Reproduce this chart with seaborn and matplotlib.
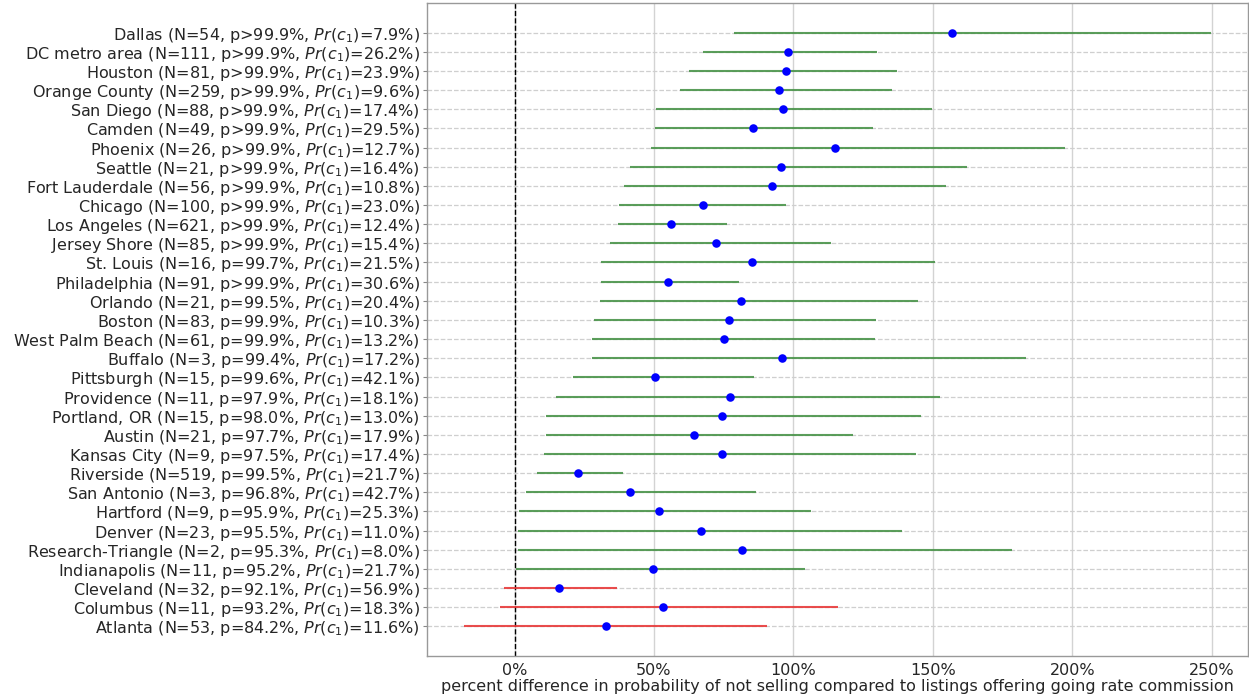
import numpy as np
import pandas as pd
import matplotlib
matplotlib.use("Agg")
import matplotlib.pyplot as plt
from matplotlib.ticker import MultipleLocator, PercentFormatter
import seaborn as sns

# Metro areas, ordered top to bottom
metros = [
    "Dallas", "DC metro area", "Houston", "Orange County", "San Diego", "Camden",
    "Phoenix", "Seattle", "Fort Lauderdale", "Chicago", "Los Angeles", "Jersey Shore",
    "St. Louis", "Philadelphia", "Orlando", "Boston", "West Palm Beach", "Buffalo",
    "Pittsburgh", "Providence", "Portland, OR", "Austin", "Kansas City", "Riverside",
    "San Antonio", "Hartford", "Denver", "Research-Triangle", "Indianapolis",
    "Cleveland", "Columbus", "Atlanta",
]
n_listings = [54, 111, 81, 259, 88, 49, 26, 21, 56, 100, 621, 85, 16, 91, 21, 83,
              61, 3, 15, 11, 15, 21, 9, 519, 3, 9, 23, 2, 11, 32, 11, 53]
p_text = [">99.9", ">99.9", ">99.9", ">99.9", ">99.9", ">99.9", ">99.9", ">99.9",
          ">99.9", ">99.9", ">99.9", ">99.9", "=99.7", ">99.9", "=99.5", "=99.9",
          "=99.9", "=99.4", "=99.6", "=97.9", "=98.0", "=97.7", "=97.5", "=99.5",
          "=96.8", "=95.9", "=95.5", "=95.3", "=95.2", "=92.1", "=93.2", "=84.2"]
pr_c1 = [7.9, 26.2, 23.9, 9.6, 17.4, 29.5, 12.7, 16.4, 10.8, 23.0, 12.4, 15.4,
         21.5, 30.6, 20.4, 10.3, 13.2, 17.2, 42.1, 18.1, 13.0, 17.9, 17.4, 21.7,
         42.7, 25.3, 11.0, 8.0, 21.7, 56.9, 18.3, 11.6]

# Point estimates and interval bounds (percent difference)
estimate = [156.8, 98.1, 97.5, 94.9, 96.4, 85.6, 114.8, 95.5, 92.4, 67.4, 56.1, 72.2,
            85.2, 54.9, 81.1, 76.9, 75.0, 96.0, 50.2, 77.1, 74.4, 64.2, 74.4, 22.9,
            41.3, 51.7, 66.9, 81.4, 49.6, 16.1, 53.2, 32.8]
lower = [78.6, 67.6, 62.5, 59.3, 50.6, 50.4, 48.9, 41.5, 39.2, 37.5, 37.1, 34.1,
         31.1, 31.1, 30.7, 28.4, 27.7, 27.7, 21.0, 15.0, 11.4, 11.4, 10.6, 8.0,
         4.2, 1.7, 1.3, 1.1, 0.6, -3.6, -5.1, -18.0]
upper = [249.6, 130.1, 137.3, 135.2, 149.6, 128.4, 197.5, 162.1, 154.7, 97.5, 76.1,
         113.4, 150.8, 80.5, 144.7, 129.5, 129.2, 183.5, 85.8, 152.7, 145.8, 121.2,
         144.1, 38.8, 86.6, 106.3, 138.8, 178.4, 104.0, 36.9, 116.1, 90.5]

labels = [
    f"{m} (N={n}, p{p}%, $Pr(c_1)$={c:.1f}%)"
    for m, n, p, c in zip(metros, n_listings, p_text, pr_c1)
]

df = pd.DataFrame({
    "label": labels,
    "pos": np.arange(len(metros)),
    "estimate": estimate,
    "lower": lower,
    "upper": upper,
})
# Intervals that cross zero are drawn in red
df["color"] = np.where(df["lower"] < 0, "#e83a3a", "#4a944a")

sns.set_theme(style="white")
plt.rcParams["font.family"] = ["DejaVu Sans"]
plt.rcParams["mathtext.fontset"] = "dejavusans"

fig = plt.figure(figsize=(12.49, 6.98), dpi=100)
ax = fig.add_axes([427 / 1249, 42 / 698, 821 / 1249, 653 / 698])

ax.hlines(df["pos"], df["lower"], df["upper"], colors=df["color"],
          linewidth=1.5, alpha=0.9, zorder=2)
sns.scatterplot(data=df, x="estimate", y="pos", ax=ax, color="blue",
                s=38, edgecolor="blue", linewidth=0, zorder=3)
ax.axvline(0, color="black", linestyle="--", linewidth=1.0, zorder=1.5)

ax.invert_yaxis()
ax.set_yticks(df["pos"])
ax.set_yticklabels(df["label"], fontsize=11.5)
ax.xaxis.set_major_locator(MultipleLocator(50))
ax.xaxis.set_major_formatter(PercentFormatter(decimals=0))
ax.tick_params(axis="x", labelsize=11.5, length=0, pad=5)
ax.tick_params(axis="y", length=3, width=0.8, color="#888888", left=True, pad=2)

ax.grid(axis="x", color="#d3d3d3", linestyle="-", linewidth=1.0, zorder=0)
ax.grid(axis="y", color="#cfcfcf", linestyle="--", linewidth=0.9, zorder=0)
ax.set_axisbelow(True)

for sp in ax.spines.values():
    sp.set_color("#999999")
    sp.set_linewidth(1.0)

ax.set_xlabel("percent difference in probability of not selling compared to "
              "listings offering going rate commission", fontsize=11.5, labelpad=1)
ax.set_ylabel("")

fig.savefig("out.png", dpi=100)
